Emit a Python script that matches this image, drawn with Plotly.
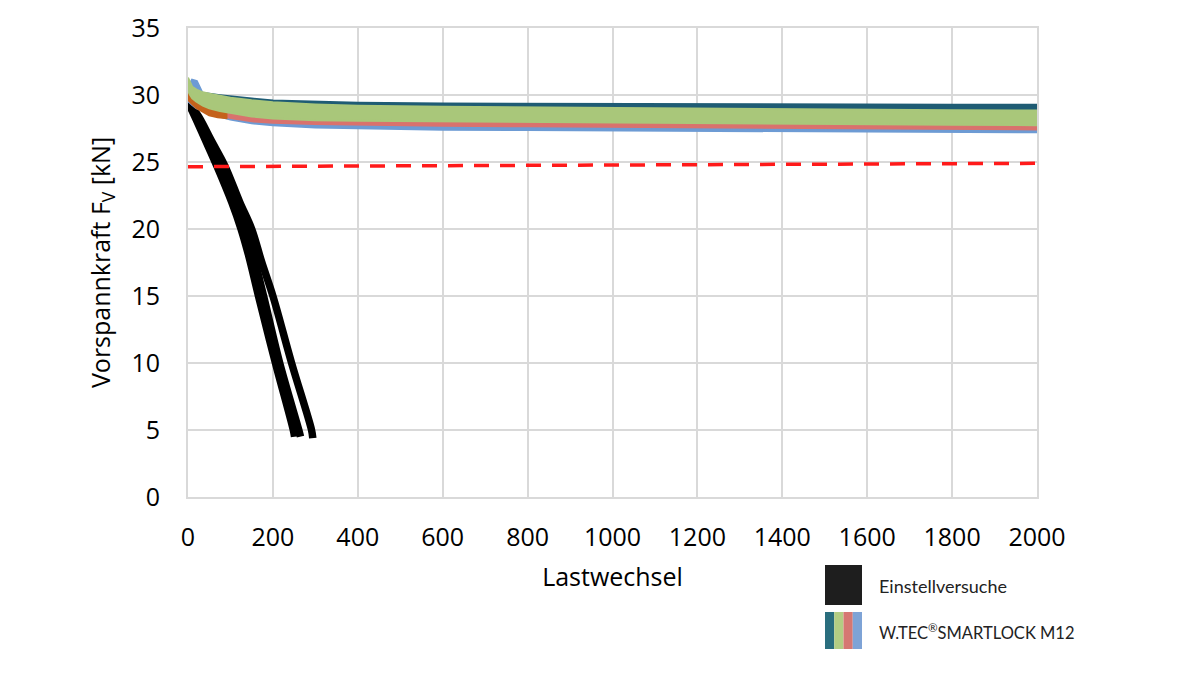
import plotly.graph_objects as go

# ---- data ----
band_x = [0, 5, 10, 20, 35, 50, 75, 100, 150, 200, 300, 400, 600, 800, 1000, 1200, 1400, 1600, 1800, 2000]

teal_top = [30.2, 30.25, 30.2, 30.15, 30.1, 30.05, 29.95, 29.85, 29.7, 29.55, 29.45, 29.38, 29.32, 29.3, 29.28, 29.27, 29.26, 29.25, 29.24, 29.24]
teal_bot = [29.6, 29.5, 29.4, 29.3, 29.2, 29.1, 29.0, 28.9, 28.8, 28.7, 28.6, 28.5, 28.45, 28.4, 28.4, 28.35, 28.35, 28.35, 28.35, 28.35]

green_top = [31.3, 30.9, 30.6, 30.4, 30.2, 30.1, 29.95, 29.8, 29.6, 29.45, 29.3, 29.2, 29.12, 29.07, 29.02, 28.98, 28.94, 28.9, 28.87, 28.84]
green_bot = [30.3, 30.0, 29.75, 29.5, 29.2, 29.0, 28.8, 28.65, 28.4, 28.25, 28.12, 28.07, 28.0, 27.95, 27.92, 27.88, 27.85, 27.82, 27.78, 27.75]

red_top = [30.2, 30.0, 29.9, 29.7, 29.5, 29.3, 29.1, 29.0, 28.8, 28.6, 28.45, 28.35, 28.25, 28.2, 28.15, 28.1, 28.05, 28.0, 27.98, 27.95]
red_bot = [29.7, 29.5, 29.35, 29.15, 28.95, 28.75, 28.5, 28.3, 28.05, 27.95, 27.85, 27.8, 27.72, 27.68, 27.64, 27.6, 27.55, 27.52, 27.48, 27.45]

blue_top = [30.3, 30.8, 31.1, 31.0, 30.0, 29.8, 29.5, 29.3, 29.0, 28.8, 28.5, 28.4, 28.3, 28.2, 28.1, 28.1, 28.0, 28.0, 28.0, 27.95]
blue_bot = [29.6, 29.45, 29.3, 29.05, 28.85, 28.65, 28.4, 28.2, 27.92, 27.78, 27.62, 27.53, 27.45, 27.42, 27.4, 27.37, 27.33, 27.3, 27.27, 27.25]

orange_x = [0, 5, 10, 20, 35, 50, 70, 90]
orange_top = [30.4, 30.1, 29.9, 29.6, 29.3, 29.05, 28.85, 28.7]
orange_bot = [29.7, 29.5, 29.35, 29.05, 28.75, 28.5, 28.35, 28.3]

black1_x = [0, 13, 40, 68, 103, 125, 143, 166, 206, 248, 251]
black1_y = [29.4, 28.6, 26.7, 24.7, 22.0, 20.0, 18.0, 15.0, 10.0, 5.0, 4.5]
black2_x = [0, 20, 48, 77, 112, 137, 156, 178, 216, 261, 265]
black2_y = [29.4, 28.5, 26.6, 24.7, 22.0, 20.0, 17.8, 15.0, 10.0, 5.0, 4.5]
black3_x = [0, 25, 55, 87, 122, 150, 173, 200, 244, 291, 294]
black3_y = [29.5, 28.4, 26.6, 24.7, 22.0, 20.0, 17.6, 15.0, 10.0, 5.0, 4.4]

limit_x = [0, 2000]
limit_y = [24.65, 24.9]

x_ticks = [0, 200, 400, 600, 800, 1000, 1200, 1400, 1600, 1800, 2000]
y_ticks = [0, 5, 10, 15, 20, 25, 30, 35]

legend_labels = ["Einstellversuche", "W.TEC<sup>®</sup>SMARTLOCK M12"]
legend_sizes = [18, 16.5]

# ---- colours ----
C_TEAL = "#1f5c74"
C_GREEN = "#a9c77a"
C_RED = "#d9726d"
C_BLUE = "#6d9bd4"
C_ORANGE = "#c4621c"
C_BLACK = "#000000"
C_LIMIT = "#ff1a1a"
C_GRID = "#d9d9d9"
FONT = "Open Sans"

fig = go.Figure()

# black curves (drawn first)
for bx, by in [(black1_x, black1_y), (black2_x, black2_y), (black3_x, black3_y)]:
    fig.add_trace(go.Scatter(x=bx, y=by, mode="lines",
                             line=dict(color=C_BLACK, width=7.5, shape="spline", smoothing=1.0),
                             hoverinfo="skip", showlegend=False))


def band(xs, top, bot, color, lw=2.5):
    fig.add_trace(go.Scatter(x=list(xs) + list(xs)[::-1], y=list(top) + list(bot)[::-1],
                             mode="lines", fill="toself", fillcolor=color,
                             line=dict(color=color, width=lw),
                             hoverinfo="skip", showlegend=False))


band(band_x, teal_top, teal_bot, C_TEAL, 3)
band(band_x, blue_top, blue_bot, C_BLUE, 3)
band(band_x, red_top, red_bot, C_RED, 2.5)
band(orange_x, orange_top, orange_bot, C_ORANGE, 2.5)
band(band_x, green_top, green_bot, C_GREEN, 2)

# dashed limit line
fig.add_trace(go.Scatter(x=limit_x, y=limit_y, mode="lines",
                         line=dict(color=C_LIMIT, width=3.5, dash="15px,11px"),
                         hoverinfo="skip", showlegend=False))

# ---- layout ----
OFF = 8  # page offset of the figure in the browser
L, R, T, B = 188 - OFF, 1200 - (1037 - OFF), 28 - OFF, 675 - (497 - OFF)
pw, ph = 1200 - L - R, 675 - T - B


def px2paper(x, y):
    return (x - OFF - L) / pw, (675 - B - (y - OFF)) / ph


fig.update_layout(
    width=1200, height=675,
    margin=dict(l=L, r=R, t=T, b=B, autoexpand=False),
    paper_bgcolor="white", plot_bgcolor="white",
    font=dict(family=FONT, color="#000000"),
    showlegend=False,
    xaxis=dict(range=[0, 2000], tickvals=x_ticks, ticktext=[str(v) for v in x_ticks],
               automargin=False,
               showgrid=True, gridcolor=C_GRID, gridwidth=2, zeroline=False,
               showline=True, linecolor=C_GRID, linewidth=2, mirror=True,
               ticks="", tickfont=dict(size=25, family=FONT), ticklabelstandoff=17,
               title=dict(text="Lastwechsel", font=dict(size=25, family=FONT), standoff=16)),
    yaxis=dict(range=[0, 35], tickvals=y_ticks, ticktext=[str(v) for v in y_ticks],
               automargin=False,
               showgrid=True, gridcolor=C_GRID, gridwidth=2, zeroline=False,
               showline=True, linecolor=C_GRID, linewidth=2, mirror=True,
               ticks="", tickfont=dict(size=25, family=FONT), ticklabelstandoff=21,
               title=dict(text="Vorspannkraft F<sub>V</sub> [kN]", font=dict(size=25, family=FONT), standoff=14)),
)

# legend (manual)
x0, y0 = px2paper(825, 565)
x1, y1 = px2paper(862, 605)
fig.add_shape(type="rect", xref="paper", yref="paper", x0=x0, x1=x1, y0=y1, y1=y0,
              fillcolor="#1e1e1e", line=dict(width=0))
stripe_cols = ["#2a6e7e", "#b3cd83", "#d67772", "#7ea3d6"]
sw = 37 / 4
for i, c in enumerate(stripe_cols):
    sx0, sy0 = px2paper(825 + i * sw, 612)
    sx1, sy1 = px2paper(825 + (i + 1) * sw, 649)
    fig.add_shape(type="rect", xref="paper", yref="paper", x0=sx0, x1=sx1, y0=sy1, y1=sy0,
                  fillcolor=c, line=dict(width=0))

for lab, cy, fs in zip(legend_labels, [586, 632], legend_sizes):
    ax, ay = px2paper(877, cy)
    fig.add_annotation(text=lab, xref="paper", yref="paper", x=ax, y=ay, xanchor="left", yanchor="middle",
                       showarrow=False, font=dict(size=fs, family="Lato", color="#222222"))

fig.write_html("out.html")
